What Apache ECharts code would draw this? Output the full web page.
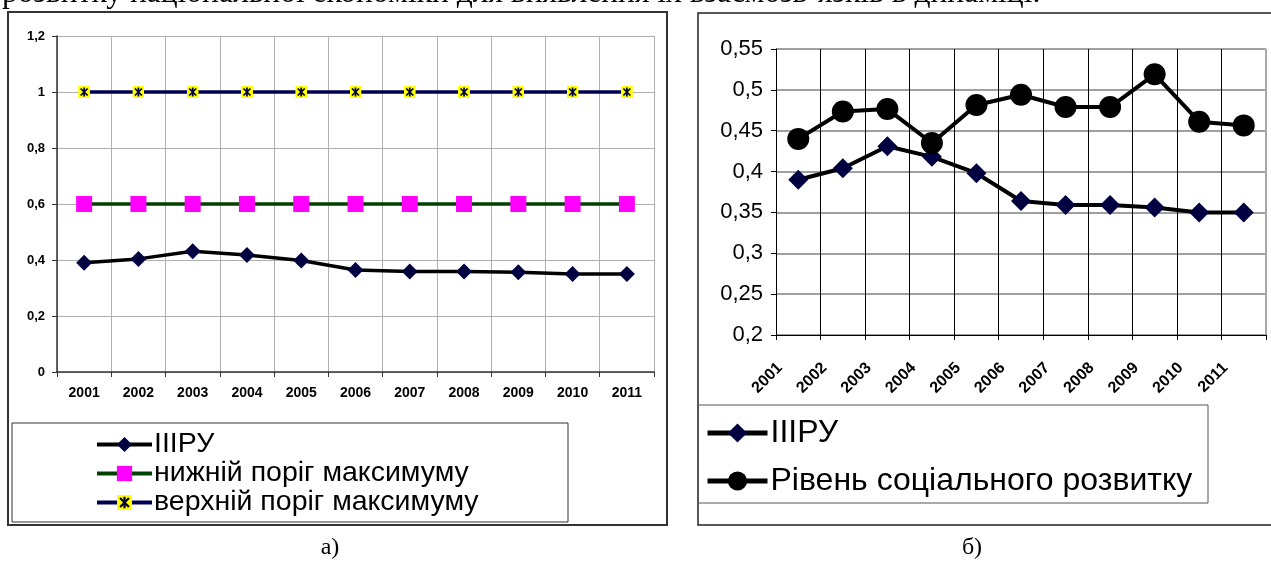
<!DOCTYPE html>
<html><head><meta charset="utf-8">
<script src="https://cdn.jsdelivr.net/npm/echarts@6/dist/echarts.min.js"></script>
<style>html,body{margin:0;padding:0;background:#fff;overflow:hidden}#c{width:1271px;height:566px}</style>
</head><body><div id="c"></div>
<script>
// ---- data ----
const years = ['2001','2002','2003','2004','2005','2006','2007','2008','2009','2010','2011'];
const shru = [0.39, 0.404, 0.431, 0.418, 0.398, 0.364, 0.359, 0.359, 0.356, 0.35, 0.35];
const lowerThreshold = [0.6, 0.6, 0.6, 0.6, 0.6, 0.6, 0.6, 0.6, 0.6, 0.6, 0.6];
const upperThreshold = [1, 1, 1, 1, 1, 1, 1, 1, 1, 1, 1];
const socialLevel = [0.44, 0.4735, 0.4765, 0.435, 0.4815, 0.494, 0.479, 0.479, 0.519, 0.461, 0.4565];
const names = ['ІІІРУ', 'нижній поріг максимуму', 'верхній поріг максимуму', 'Рівень соціального розвитку'];
const topText = 'розвитку національної економіки для виявлення їх взаємозв\u2019язків в динаміці.';
const captions = ['а)', 'б)'];

const SANS = '"Liberation Sans", Arial, sans-serif';
const SERIF = '"Liberation Serif", "Times New Roman", serif';
const starSvg = "<svg xmlns='http://www.w3.org/2000/svg' width='24' height='24'><rect width='24' height='24' fill='#ffff00'/><path d='M5 5 L19 19 M19 5 L5 19 M12 3 L12 21' stroke='#000040' stroke-width='3.5'/></svg>";
const starSymbol = 'image://data:image/svg+xml;charset=utf-8,' + encodeURIComponent(starSvg);
const fmt = v => String(Number(v.toFixed(2))).replace('.', ',');
const R_SUFFIX = '\u200b';

const chart = echarts.init(document.getElementById('c'), null, {renderer: 'canvas'});
chart.setOption({
  animation: false,
  backgroundColor: '#fff',
  textStyle: {fontFamily: SANS},
  grid: [
    {left: 57, top: 36, width: 597, height: 336},
    {left: 776, top: 49, width: 490, height: 286}
  ],
  xAxis: [
    {type: 'category', gridIndex: 0, data: years, boundaryGap: true,
      axisLine: {lineStyle: {color: '#333', width: 1.5}},
      axisTick: {show: true, length: 5, lineStyle: {color: '#333'}},
      axisLabel: {color: '#000', fontWeight: 'bold', fontSize: 14, margin: 14, fontFamily: SANS},
      splitLine: {show: true, lineStyle: {color: '#b0b0b0', width: 1}}},
    {type: 'category', gridIndex: 1, data: years, boundaryGap: true,
      axisLine: {lineStyle: {color: '#000', width: 1}},
      axisTick: {show: true, length: 5, lineStyle: {color: '#000'}},
      axisLabel: {color: '#000', fontWeight: 'bold', fontSize: 16, margin: 12, rotate: 45,
        padding: [0, 26, 0, 0], fontFamily: SANS},
      splitLine: {show: true, lineStyle: {color: '#000', width: 1}}}
  ],
  yAxis: [
    {type: 'value', gridIndex: 0, min: 0, max: 1.2, interval: 0.2,
      axisLine: {show: true, lineStyle: {color: '#333', width: 1.5}},
      axisTick: {show: true, length: 5, lineStyle: {color: '#333'}},
      axisLabel: {color: '#000', fontWeight: 'bold', fontSize: 13, margin: 12, formatter: fmt, fontFamily: SANS},
      splitLine: {show: true, lineStyle: {color: '#b0b0b0', width: 1}}},
    {type: 'value', gridIndex: 1, min: 0.2, max: 0.55, interval: 0.05,
      axisLine: {show: true, lineStyle: {color: '#000', width: 1}},
      axisTick: {show: true, length: 5, lineStyle: {color: '#000'}},
      axisLabel: {color: '#000', fontSize: 22, margin: 13, formatter: fmt, fontFamily: SANS},
      splitLine: {show: true, lineStyle: {color: '#808080', width: 1.5}}}
  ],
  legend: [
    {data: [names[0], names[1], names[2]], orient: 'vertical', left: 95, top: 430, padding: 0,
      itemWidth: 55, itemHeight: 19, itemGap: 0, selectedMode: false,
      lineStyle: {width: 4},
      textStyle: {fontSize: 28.5, lineHeight: 28, color: '#000', fontFamily: SANS, padding: [0, 0, 0, -3]}},
    {data: [names[0] + R_SUFFIX, names[3]], orient: 'vertical', left: 705, top: 417, padding: 0,
      itemWidth: 60, itemHeight: 24, itemGap: 16, selectedMode: false,
      lineStyle: {width: 5},
      formatter: n => n.replace(R_SUFFIX, ''),
      textStyle: {fontSize: 32, lineHeight: 32, color: '#000', fontFamily: SANS, padding: [0, 0, 0, -2]}}
  ],
  series: [
    {name: names[0], type: 'line', xAxisIndex: 0, yAxisIndex: 0, data: shru,
      symbol: 'diamond', symbolSize: 16,
      lineStyle: {color: '#000', width: 3.5}, itemStyle: {color: '#000040'}},
    {name: names[1], type: 'line', xAxisIndex: 0, yAxisIndex: 0, data: lowerThreshold,
      symbol: 'rect', symbolSize: 16,
      lineStyle: {color: '#004000', width: 3.5}, itemStyle: {color: '#ff00ff'}},
    {name: names[2], type: 'line', xAxisIndex: 0, yAxisIndex: 0, data: upperThreshold,
      symbol: starSymbol, symbolSize: 12,
      lineStyle: {color: '#000050', width: 3.5}, itemStyle: {color: '#ffff00'}},
    {name: names[0] + R_SUFFIX, type: 'line', xAxisIndex: 1, yAxisIndex: 1, data: shru,
      symbol: 'diamond', symbolSize: 20,
      lineStyle: {color: '#000', width: 4}, itemStyle: {color: '#000040'}},
    {name: names[3], type: 'line', xAxisIndex: 1, yAxisIndex: 1, data: socialLevel,
      symbol: 'circle', symbolSize: 22,
      lineStyle: {color: '#000', width: 4}, itemStyle: {color: '#000'}}
  ],
  graphic: [
    {type: 'text', x: 2, y: -6, silent: true,
      style: {text: topText, font: '31.5px ' + SERIF, fill: '#000', verticalAlign: 'middle'}},
    {type: 'rect', shape: {x: 8, y: 12, width: 659, height: 513}, silent: true, z: -1,
      style: {fill: 'none', stroke: '#333', lineWidth: 2}},
    {type: 'rect', shape: {x: 12, y: 423, width: 556, height: 99}, silent: true, z: -1,
      style: {fill: 'none', stroke: '#333', lineWidth: 1}},
    {type: 'rect', shape: {x: 698, y: 13, width: 590, height: 512}, silent: true, z: -1,
      style: {fill: 'none', stroke: '#222', lineWidth: 1.5}},
    {type: 'rect', shape: {x: 698, y: 405, width: 510, height: 98}, silent: true, z: -1,
      style: {fill: 'none', stroke: '#555', lineWidth: 1}},
    {type: 'line', shape: {x1: 1266, y1: 49, x2: 1266, y2: 335}, silent: true, z: 1,
      style: {stroke: '#a8a8a8', lineWidth: 2}},
    {type: 'text', x: 330, y: 548, silent: true,
      style: {text: captions[0], font: '24px ' + SERIF, fill: '#000', align: 'center', verticalAlign: 'middle'}},
    {type: 'text', x: 972, y: 548, silent: true,
      style: {text: captions[1], font: '24px ' + SERIF, fill: '#000', align: 'center', verticalAlign: 'middle'}}
  ]
});
</script></body></html>
